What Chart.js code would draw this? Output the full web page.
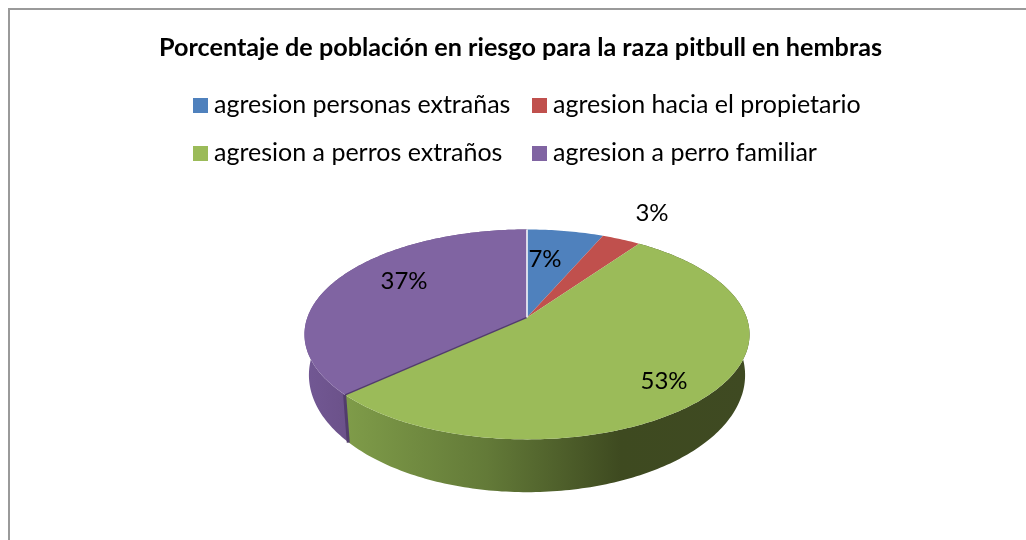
<!DOCTYPE html>
<html>
<head>
<meta charset="utf-8">
<style>
  html, body { margin: 0; background: #fff; }
  #frame { position: absolute; left: 8px; top: 8px; width: 1018px; height: 532px; border-top: 2px solid #9a9a9a; border-left: 2px solid #9a9a9a; box-sizing: border-box; }
  canvas { position: absolute; left: 0; top: 0; }
</style>
</head>
<body>
<div id="frame"></div>
<canvas id="chart" width="1026" height="540"></canvas>
<script src="https://cdn.jsdelivr.net/npm/chart.js@4"></script>
<script>
const chartTitle = "Porcentaje de población en riesgo para la raza pitbull en hembras";
const categories = ["agresion personas extrañas", "agresion hacia el propietario", "agresion a perros extraños", "agresion a perro familiar"];
const values = [6.5, 3.3, 53.4, 36.8];
const sliceColors = ["#4f81bd", "#c0504d", "#9bbb59", "#8064a2"];

// hand placed like the original, [x, y] of the text centre
const labelSpots = [[545, 259], [652, 213], [664, 381], [404, 281]];
const legendSpots = [[193, 105], [532, 105], [193, 153], [532, 153]];

const textFont = "Lato, Carlito, sans-serif";
const tilt = { dx: 6.5, yScale: 102.2 / 219.6, k: 0.162 };
const floor = { scale: 0.98, yScale: 114 / 215.2, k: 0.162, drop: 38.7 };

// ground plane to screen, perspective so the far side shrinks
const topPoint = (el, r, a) => {
  const u = r * Math.cos(a), v = r * Math.sin(a);
  const w = 1 - tilt.k * v;
  const R = el.outerRadius;
  return [el.x + tilt.dx + (R * u) / w, el.y + (R * tilt.yScale * v) / w];
};

const floorPoint = (el, a) => {
  const u = Math.cos(a), v = Math.sin(a);
  const w = 1 - floor.k * v;
  const R = el.outerRadius * floor.scale;
  return [el.x + tilt.dx + (R * u) / w, el.y + floor.drop + (R * floor.yScale * v) / w];
};

const sampleAngles = (a, b) => {
  const n = Math.max(2, Math.ceil(Math.abs(b - a) * 60));
  const out = [];
  for (let i = 0; i <= n; i++) out.push(a + ((b - a) * i) / n);
  return out;
};

// top faces go through the normal arc draw of the library
Chart.ArcElement.prototype.draw = function (ctx) {
  const angles = sampleAngles(this.startAngle, this.endAngle);
  ctx.save();
  ctx.beginPath();
  ctx.moveTo(...topPoint(this, 0, 0));
  angles.forEach((a) => ctx.lineTo(...topPoint(this, 1, a)));
  ctx.closePath();
  ctx.fillStyle = this.options.backgroundColor;
  ctx.fill();
  ctx.restore();
};

const wallPath = (ctx, el) => {
  const angles = sampleAngles(el.startAngle, el.endAngle);
  ctx.beginPath();
  angles.forEach((a) => ctx.lineTo(...topPoint(el, 1, a)));
  angles.reverse().forEach((a) => ctx.lineTo(...floorPoint(el, a)));
  ctx.closePath();
};

const wallsPlugin = {
  id: "walls",
  beforeDatasetsDraw(chart) {
    const { ctx } = chart;
    const arcs = chart.getDatasetMeta(0).data;
    const purple = ctx.createLinearGradient(305, 0, 350, 0);
    purple.addColorStop(0, "#725894");
    purple.addColorStop(1, "#6b5189");
    const green = ctx.createLinearGradient(345, 0, 750, 0);
    green.addColorStop(0, "#7f9c49");
    green.addColorStop(0.35, "#637a38");
    green.addColorStop(0.68, "#3e4a20");
    green.addColorStop(1, "#3f4a22");
    ctx.save();
    ctx.fillStyle = purple;
    wallPath(ctx, arcs[3]);
    ctx.fill();
    ctx.fillStyle = green;
    wallPath(ctx, arcs[2]);
    ctx.fill();
    ctx.restore();
  },
  afterDatasetsDraw(chart) {
    const { ctx } = chart;
    const arcs = chart.getDatasetMeta(0).data;
    const cut = arcs[3].startAngle;
    const rim = topPoint(arcs[3], 1, cut);
    const foot = floorPoint(arcs[3], cut);
    ctx.save();
    // dark edge of the purple slice where green cuts it
    ctx.strokeStyle = "#523d6c";
    ctx.lineWidth = 1.5;
    ctx.beginPath();
    ctx.moveTo(...topPoint(arcs[3], 0, 0));
    ctx.lineTo(...rim);
    ctx.stroke();
    ctx.lineWidth = 3;
    ctx.beginPath();
    ctx.moveTo(rim[0] - 0.5, rim[1]);
    ctx.lineTo(foot[0] - 0.5, foot[1]);
    ctx.stroke();
    // white seam at twelve o'clock
    ctx.strokeStyle = "#ffffff";
    ctx.lineWidth = 1.5;
    ctx.beginPath();
    ctx.moveTo(...topPoint(arcs[0], 0, 0));
    ctx.lineTo(...topPoint(arcs[0], 1, arcs[0].startAngle));
    ctx.stroke();

    ctx.fillStyle = "#000000";
    ctx.font = "24px " + textFont;
    ctx.textAlign = "center";
    ctx.textBaseline = "middle";
    values.forEach((v, i) => {
      ctx.fillText(Math.round(v) + "%", labelSpots[i][0], labelSpots[i][1]);
    });

    ctx.font = "25px " + textFont;
    ctx.textAlign = "left";
    categories.forEach((name, i) => {
      const [x, y] = legendSpots[i];
      ctx.fillStyle = sliceColors[i];
      ctx.fillRect(x, y - 7, 15, 15);
      ctx.fillStyle = "#000000";
      ctx.fillText(name, x + 21, y);
    });
    ctx.restore();
  },
};

new Chart(document.getElementById("chart"), {
  type: "pie",
  data: {
    labels: categories,
    datasets: [{ data: values, backgroundColor: sliceColors, borderWidth: 0 }],
  },
  plugins: [wallsPlugin],
  options: {
    responsive: false,
    animation: false,
    events: [],
    radius: 219.6,
    layout: { padding: { left: 15, bottom: 1.4 } },
    plugins: {
      legend: { display: false },
      tooltip: { enabled: false },
      title: {
        display: true,
        text: chartTitle,
        color: "#000000",
        font: { family: textFont, size: 25.2, weight: "bold" },
        padding: { top: 33, bottom: 33 },
      },
    },
  },
});
</script>
</body>
</html>
